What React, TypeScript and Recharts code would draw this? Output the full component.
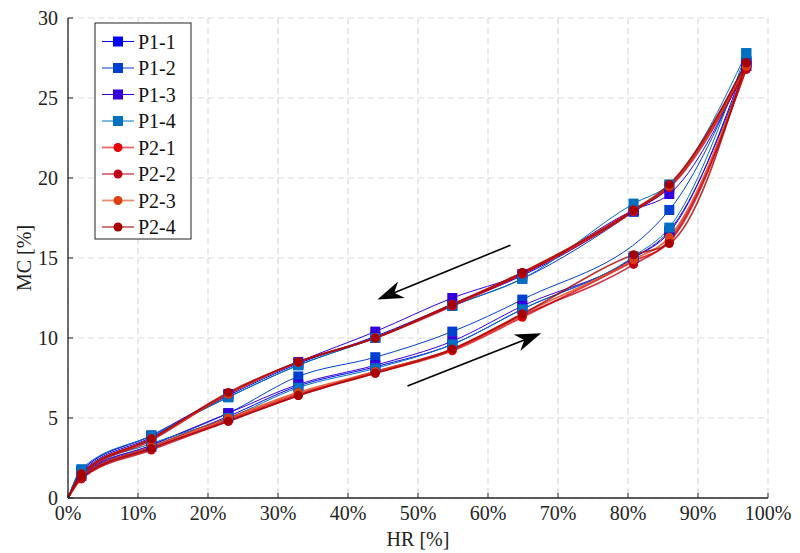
import {
  LineChart,
  Line,
  XAxis,
  YAxis,
  CartesianGrid,
  ReferenceLine,
} from "recharts";

// relative humidity steps (%)
const hr = [0, 1.9, 11.9, 22.9, 32.9, 43.9, 54.9, 64.9, 80.8, 85.9, 96.9];

// moisture content (%) - adsorption / desorption branches
const p11Ads = [0, 1.4, 3.2, 5.1, 7.0, 8.2, 9.6, 11.8, 15.0, 16.6, 27.3];
const p11Des = [0, 1.6, 3.8, 6.4, 8.4, 10.1, 12.1, 13.9, 17.9, 19.4, 27.3];
const p12Ads = [0, 1.5, 3.3, 5.3, 7.6, 8.8, 10.4, 12.4, null, 18.0, 27.2];
const p12Des = [0, 1.7, 3.9, 6.3, 8.3, 10.0, 12.0, 13.7, 17.9, 19.5, 27.2];
const p13Ads = [0, 1.4, 3.3, 5.3, 7.1, 8.3, 9.8, 12.0, 15.0, 16.7, 27.0];
const p13Des = [0, 1.7, 3.9, 6.5, 8.5, 10.4, 12.5, 14.0, 18.0, 19.0, 27.0];
const p14Ads = [0, 1.6, 3.4, 5.0, 6.9, 8.1, 9.6, 11.8, 15.1, 16.9, 27.8];
const p14Des = [0, 1.8, 3.9, 6.3, 8.3, 10.0, 12.0, 13.7, 18.4, 19.6, 27.8];
const p21Ads = [0, 1.2, 3.1, 4.9, 6.5, 7.8, 9.2, 11.3, 14.8, 16.0, 26.9];
const p21Des = [0, 1.5, 3.7, 6.5, 8.5, 10.0, 12.1, 14.0, 17.9, 19.5, 26.9];
const p22Ads = [0, 1.2, 3.0, 4.8, 6.4, 7.9, 9.3, 11.4, 14.6, 16.1, 26.8];
const p22Des = [0, 1.4, 3.6, 6.5, 8.5, 10.0, 12.0, 14.0, 18.0, 19.4, 26.8];
const p23Ads = [0, 1.3, 3.2, 5.0, 6.6, 7.9, 9.3, 11.5, 14.9, 16.3, 27.0];
const p23Des = [0, 1.5, 3.7, 6.5, 8.5, 10.0, 12.1, 14.1, 18.0, 19.5, 27.0];
const p24Ads = [0, 1.3, 3.1, 4.8, 6.4, 7.8, 9.3, 11.5, 15.2, 15.9, 27.2];
const p24Des = [0, 1.5, 3.7, 6.6, 8.5, 10.0, 12.1, 14.1, 18.0, 19.6, 27.2];

const xTicks = [0, 10, 20, 30, 40, 50, 60, 70, 80, 90, 100];
const yTicks = [0, 5, 10, 15, 20, 25, 30];

const series = [
  { name: "P1-1", color: "#0000ff", ads: p11Ads, des: p11Des, square: true },
  { name: "P1-2", color: "#0040d0", ads: p12Ads, des: p12Des, square: true },
  { name: "P1-3", color: "#3300dd", ads: p13Ads, des: p13Des, square: true },
  { name: "P1-4", color: "#0070c0", ads: p14Ads, des: p14Des, square: true },
  { name: "P2-1", color: "#e60000", ads: p21Ads, des: p21Des, square: false },
  { name: "P2-2", color: "#c00018", ads: p22Ads, des: p22Des, square: false },
  { name: "P2-3", color: "#dd4010", ads: p23Ads, des: p23Des, square: false },
  { name: "P2-4", color: "#a80000", ads: p24Ads, des: p24Des, square: false },
];

const toRows = (vals: (number | null)[]) =>
  hr.map((x, i) => ({ x, y: vals[i] }));

const font = "Liberation Serif, DejaVu Serif, serif";
const fs = 20;

function marker(color: string, square: boolean) {
  return (props: any) => {
    const { cx, cy, payload, index } = props;
    if (payload == null || payload.x === 0 || payload.y == null || cx == null || cy == null)
      return <g key={index} />;
    if (square)
      return <rect key={index} x={cx - 5} y={cy - 5} width={10} height={10} fill={color} />;
    return <circle key={index} cx={cx} cy={cy} r={4.5} fill={color} />;
  };
}

function Arrow(props: any) {
  const { x1, y1, x2, y2 } = props;
  const dx = x2 - x1;
  const dy = y2 - y1;
  const len = Math.sqrt(dx * dx + dy * dy);
  const ux = dx / len;
  const uy = dy / len;
  const L = 26;
  const W = 9;
  const bx = x2 - ux * L;
  const by = y2 - uy * L;
  const nx = x2 - ux * L * 0.7;
  const ny = y2 - uy * L * 0.7;
  const pts = [
    [x2, y2],
    [bx - uy * W, by + ux * W],
    [nx, ny],
    [bx + uy * W, by - ux * W],
  ]
    .map((p) => p.join(","))
    .join(" ");
  return (
    <g>
      <line x1={x1} y1={y1} x2={nx} y2={ny} stroke="#000" strokeWidth={1.6} />
      <polygon points={pts} fill="#000" />
    </g>
  );
}

function LegendBox() {
  return (
    <svg
      width={100}
      height={220}
      style={{ position: "absolute", left: 94, top: 22 }}
    >
      <rect x={1} y={1} width={96} height={216} fill="#fff" stroke="#222" strokeWidth={1} />
      {series.map((s, i) => {
        const y = 19.5 + i * 26.5;
        return (
          <g key={s.name}>
            <line
              x1={8}
              x2={40}
              y1={y}
              y2={y}
              stroke={s.color}
              strokeWidth={s.square ? 1 : 1.8}
              strokeOpacity={s.square ? 1 : 0.6}
            />
            {s.square ? (
              <rect x={19} y={y - 5} width={10} height={10} fill={s.color} />
            ) : (
              <circle cx={24} cy={y} r={4.5} fill={s.color} />
            )}
            <text
              x={44}
              y={y + 7}
              fontFamily={font}
              fontSize={fs}
              fill="#111"
            >
              {s.name}
            </text>
          </g>
        );
      })}
    </svg>
  );
}

export default function App() {
  return (
    <div style={{ position: "absolute", left: 0, top: 0, width: 800, height: 553, background: "#fff", fontFamily: font }}>
      <LineChart
        width={800}
        height={553}
        margin={{ top: 18, right: 32, bottom: 0, left: 0 }}
        style={{ fontFamily: font }}
      >
        <CartesianGrid stroke="#d9d9d9" strokeDasharray="6 4" strokeWidth={1.2} />
        <XAxis
          type="number"
          dataKey="x"
          domain={[0, 100]}
          ticks={xTicks}
          tickFormatter={(v) => `${v}%`}
          height={55}
          tickLine={{ stroke: "#262626" }}
          tickSize={-5}
          tickMargin={13}
          axisLine={{ stroke: "#262626", strokeWidth: 1.3 }}
          tick={{ fill: "#222", fontFamily: font, fontSize: fs }}
          label={{
            value: "HR [%]",
            position: "insideBottom",
            offset: 7,
            fill: "#222",
            fontFamily: font,
            fontSize: fs,
          }}
          allowDuplicatedCategory={false}
        />
        <YAxis
          type="number"
          domain={[0, 30]}
          ticks={yTicks}
          width={68}
          tickLine={{ stroke: "#262626" }}
          tickSize={-5}
          tickMargin={15}
          axisLine={{ stroke: "#262626", strokeWidth: 1.3 }}
          tick={{ fill: "#222", fontFamily: font, fontSize: fs }}
          label={{
            value: "MC [%]",
            angle: -90,
            position: "insideLeft",
            offset: 24,
            fill: "#222",
            fontFamily: font,
            fontSize: fs,
            style: { textAnchor: "middle" },
          }}
        />
        {series.flatMap((s) =>
          [
            { key: "ads", vals: s.ads },
            { key: "des", vals: s.des },
          ].map((b) => (
            <Line
              key={`${s.name}-${b.key}`}
              data={toRows(b.vals)}
              dataKey="y"
              type="monotone"
              stroke={s.color}
              strokeWidth={s.square ? 1 : 1.7}
              strokeOpacity={s.square ? 1 : 0.8}
              dot={marker(s.color, s.square)}
              activeDot={false}
              connectNulls
              isAnimationActive={false}
            />
          ))
        )}
        <ReferenceLine
          segment={[
            { x: 63.2, y: 15.8 },
            { x: 44.2, y: 12.4 },
          ]}
          shape={(p: any) => <Arrow {...p} />}
        />
        <ReferenceLine
          segment={[
            { x: 48.5, y: 7.0 },
            { x: 67.6, y: 10.3 },
          ]}
          shape={(p: any) => <Arrow {...p} />}
        />
      </LineChart>
      <LegendBox />
    </div>
  );
}
